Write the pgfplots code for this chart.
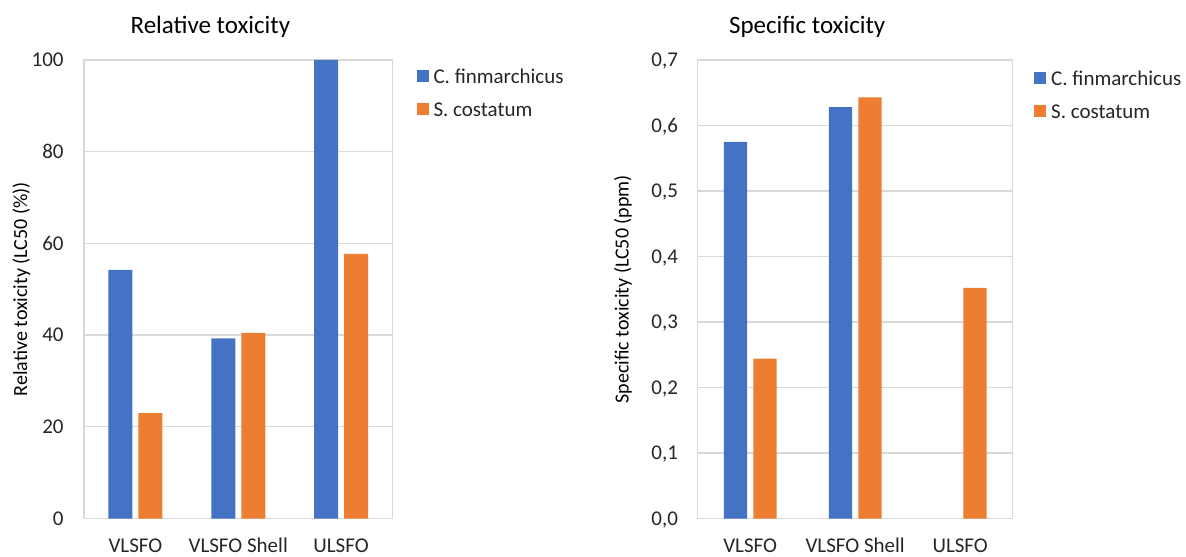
\documentclass[border=0pt]{standalone}
\usepackage{pgfplots}
\pgfplotsset{compat=1.18}
\usepackage{fontspec}
\setmainfont{Carlito}
\definecolor{cblue}{HTML}{4472C4}
\definecolor{corange}{HTML}{ED7D31}
\definecolor{gridc}{HTML}{D9D9D9}
\definecolor{txt}{HTML}{262626}
\pgfplotsset{
  mybase/.style={
    scale only axis,
    height=229.25pt,
    ymin=0,
    xmin=-0.5, xmax=2.5,
    xtick={0,1,2},
    xticklabels={VLSFO, VLSFO Shell, ULSFO},
    major tick length=0pt,
    axis line style={draw=gridc, line width=0.6pt},
    ymajorgrids,
    grid style={draw=gridc, line width=0.6pt},
    /pgf/number format/assume math mode=true,
    tick label style={font=\fontsize{10.5}{12}\selectfont, text=txt},
    yticklabel style={anchor=east, inner sep=0pt, text depth=0pt},
    xticklabel style={anchor=base, inner sep=0pt, yshift=-17pt},
    label style={font=\fontsize{10.5}{12}\selectfont, text=txt},
    title style={font=\fontsize{12.5}{14}\selectfont, text=black, anchor=base, inner sep=0pt},
    legend cell align=left,
    legend style={draw=none, fill=none, inner sep=0pt, outer sep=0pt, anchor=north west,
      font=\fontsize{10.5}{12}\selectfont, text=txt,
      nodes={inner sep=0pt, text height=7pt, text depth=0pt},
      /tikz/every odd column/.style={column sep=2.4pt}},
  },
  sq/.style={legend image code/.code={\fill[draw=none] (0pt,-3pt) rectangle (6pt,3pt);}},
}
\begin{document}
\begin{tikzpicture}
\path[use as bounding box] (0,0) rectangle (593pt,278pt);
% Left panel
\begin{axis}[mybase,
  at={(42pt,18.75pt)},
  width=154.25pt,
  ymax=100, ytick={0,20,40,60,80,100},
  ybar=3pt, bar width=12pt,
  yticklabel style={xshift=-10pt},
  every axis y label/.style={at={(axis description cs:-0.2026,0.5)}, rotate=90, anchor=center},
  ylabel={Relative toxicity (LC50 (\%))},
  title={Relative toxicity},
  title style={at={(axis description cs:0.4096,1)}, yshift=7.25pt},
  legend style={at={(axis description cs:1.0785,0.9797)}, row sep=9.5pt},
]
\addplot[fill=cblue, draw=none, sq] coordinates {(0,54.2) (1,39.3) (2,100)};
\addplot[fill=corange, draw=none, sq] coordinates {(0,23.0) (1,40.5) (2,57.7)};
\legend{C. finmarchicus, S. costatum}
\end{axis}
% Right panel
\begin{axis}[mybase,
  at={(348.85pt,18.75pt)},
  width=157.5pt,
  ymax=0.7, ytick={0,0.1,0.2,0.3,0.4,0.5,0.6,0.7},
  yticklabel style={xshift=-9.7pt, /pgf/number format/.cd, use comma, fixed, fixed zerofill, precision=1},
  ybar=3.15pt, bar width=11.65pt,
  every axis y label/.style={at={(axis description cs:-0.2378,0.5)}, rotate=90, anchor=center},
  ylabel={Specific toxicity (LC50 (ppm)},
  title={Specific toxicity},
  title style={at={(axis description cs:0.3476,1)}, yshift=7.25pt},
  legend style={at={(axis description cs:1.0689,0.9754)}, row sep=9.5pt},
]
\addplot[fill=cblue, draw=none, sq] coordinates {(0,0.575) (1,0.628)};
\addplot[fill=corange, draw=none, sq] coordinates {(0,0.244) (1,0.643) (2,0.352)};
\legend{C. finmarchicus, S. costatum}
\end{axis}
\end{tikzpicture}
\end{document}
